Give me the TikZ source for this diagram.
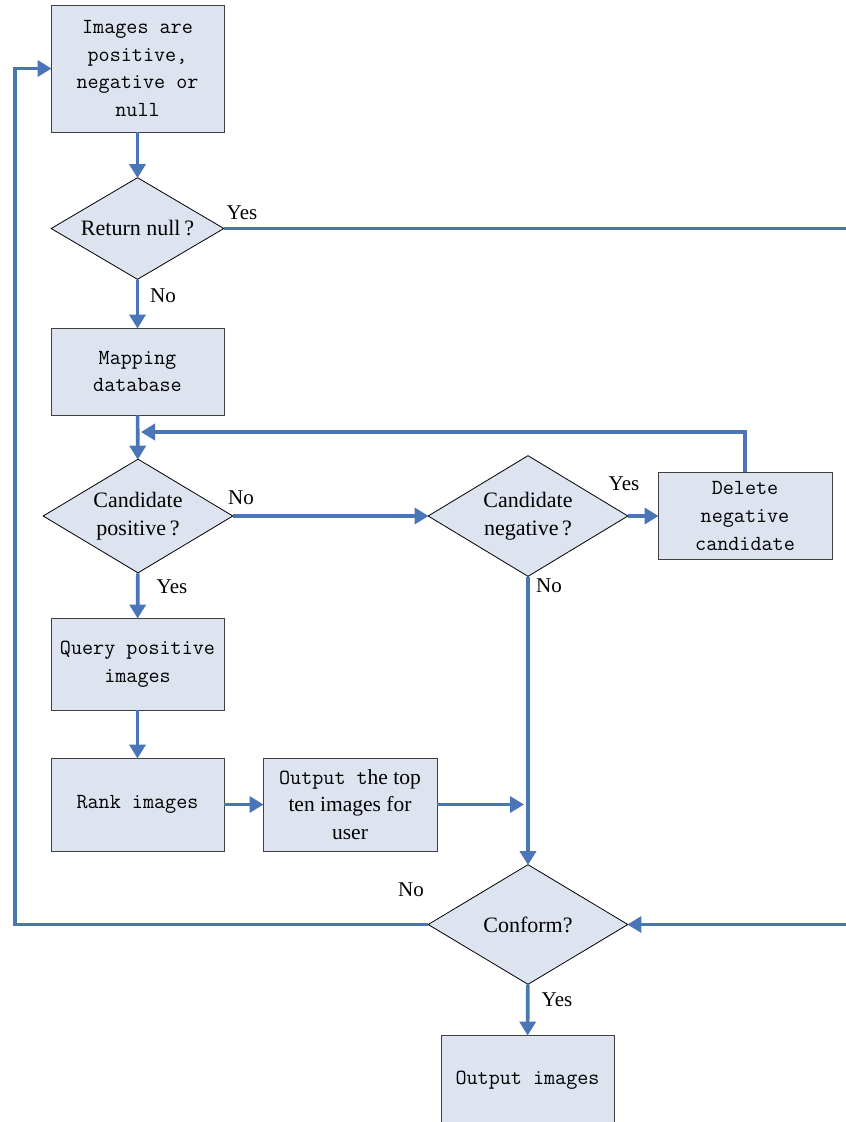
\documentclass[tikz,border=0pt]{standalone}
\usepackage{fontspec}
\setmainfont{Liberation Serif}
\usetikzlibrary{shapes.geometric,arrows.meta}
\definecolor{boxfill}{HTML}{DDE3EF}
\definecolor{flow}{HTML}{4A76B8}
\tikzset{
  box/.style={draw=black!75, line width=0.9pt, fill=boxfill, inner sep=0pt, align=center,
    font=\ttfamily\fontsize{21.5}{27.7}\selectfont},
  dia/.style={draw=black, line width=0.8pt, fill=boxfill, shape=diamond, inner sep=0pt},
  dtext/.style={align=center, font=\fontsize{22}{28}\selectfont},
  lbl/.style={font=\fontsize{21}{24}\selectfont, inner sep=0pt},
  flowline/.style={draw=flow, line width=3.6pt},
  arr/.style={flowline, -{Triangle[length=14pt,width=16pt]}, shorten >=-1pt},
}
\begin{document}
\begin{tikzpicture}[x=1pt,y=-1pt]
\useasboundingbox (0,0) rectangle (846,1122);
\fill[white] (0,0) rectangle (846,1122);
% boxes
\node[box, minimum width=173pt, minimum height=127pt] (b1) at (137.5,68.5) {Images are\\positive,\\negative or\\null};
\node[dia, minimum width=173pt, minimum height=102pt, label={[dtext]center:Return null\,?}] (d1) at (137.5,228.5) {};
\node[box, minimum width=173pt, minimum height=87pt] (b2) at (137.5,371.5) {Mapping\\database};
\node[dia, minimum width=190pt, minimum height=114pt, label={[dtext]center:Candidate\\positive\,?}] (d2) at (138,516) {};
\node[dia, minimum width=200pt, minimum height=121pt, label={[dtext]center:Candidate\\negative\,?}] (d3) at (528,516) {};
\node[box, minimum width=174pt, minimum height=87pt] (del) at (745,516) {Delete\\negative\\candidate};
\node[box, minimum width=173pt, minimum height=92pt] (q) at (137.5,664) {Query positive\\images};
\node[box, minimum width=173pt, minimum height=93pt] (r) at (137.5,804.5) {Rank images};
\node[box, minimum width=174pt, minimum height=93pt] (t) at (350,804.5) {Output t{\rmfamily he top}\\{\rmfamily ten images for}\\{\rmfamily user}};
\node[dia, minimum width=200pt, minimum height=120pt, label={[dtext]center:Conform?}] (d4) at (528,924.5) {};
\node[box, minimum width=173pt, minimum height=90pt] (o) at (527.5,1080) {Output images};
% coordinates
\coordinate (rA) at (848,228.5);
\coordinate (rB) at (848,924.5);
\coordinate (fb) at (142,432);
\coordinate (lf) at (15,924.5);
\coordinate (tv) at (528,804.5);
% connectors
\draw[arr] (b1) -- (d1);
\draw[flowline] (d1.east) -- (rA);
\draw[arr] (d1) -- (b2);
\draw[arr] (b2) -- (d2);
\draw[arr] (d2) -- (d3);
\draw[arr] (d3) -- (del);
\draw[arr] (del.north) |- (fb);
\draw[arr] (d2) -- (q);
\draw[arr] (q) -- (r);
\draw[arr] (r) -- (t);
\draw[arr, shorten >=4pt] (t.east) -- (tv);
\draw[arr] (d3) -- (d4);
\draw[arr] (rB) -- (d4.east);
\draw[arr] (d4.west) -- (lf) |- (b1.west);
\draw[arr] (d4) -- (o);
% labels
\node[lbl] (l1) at (242,213) {Yes};
\node[lbl] (l2) at (163,296) {No};
\node[lbl] (l3) at (241,498) {No};
\node[lbl] (l4) at (172,587) {Yes};
\node[lbl] (l5) at (624,484) {Yes};
\node[lbl] (l6) at (549,586) {No};
\node[lbl] (l7) at (411,890) {No};
\node[lbl] (l8) at (557,1000) {Yes};
\end{tikzpicture}
\end{document}
